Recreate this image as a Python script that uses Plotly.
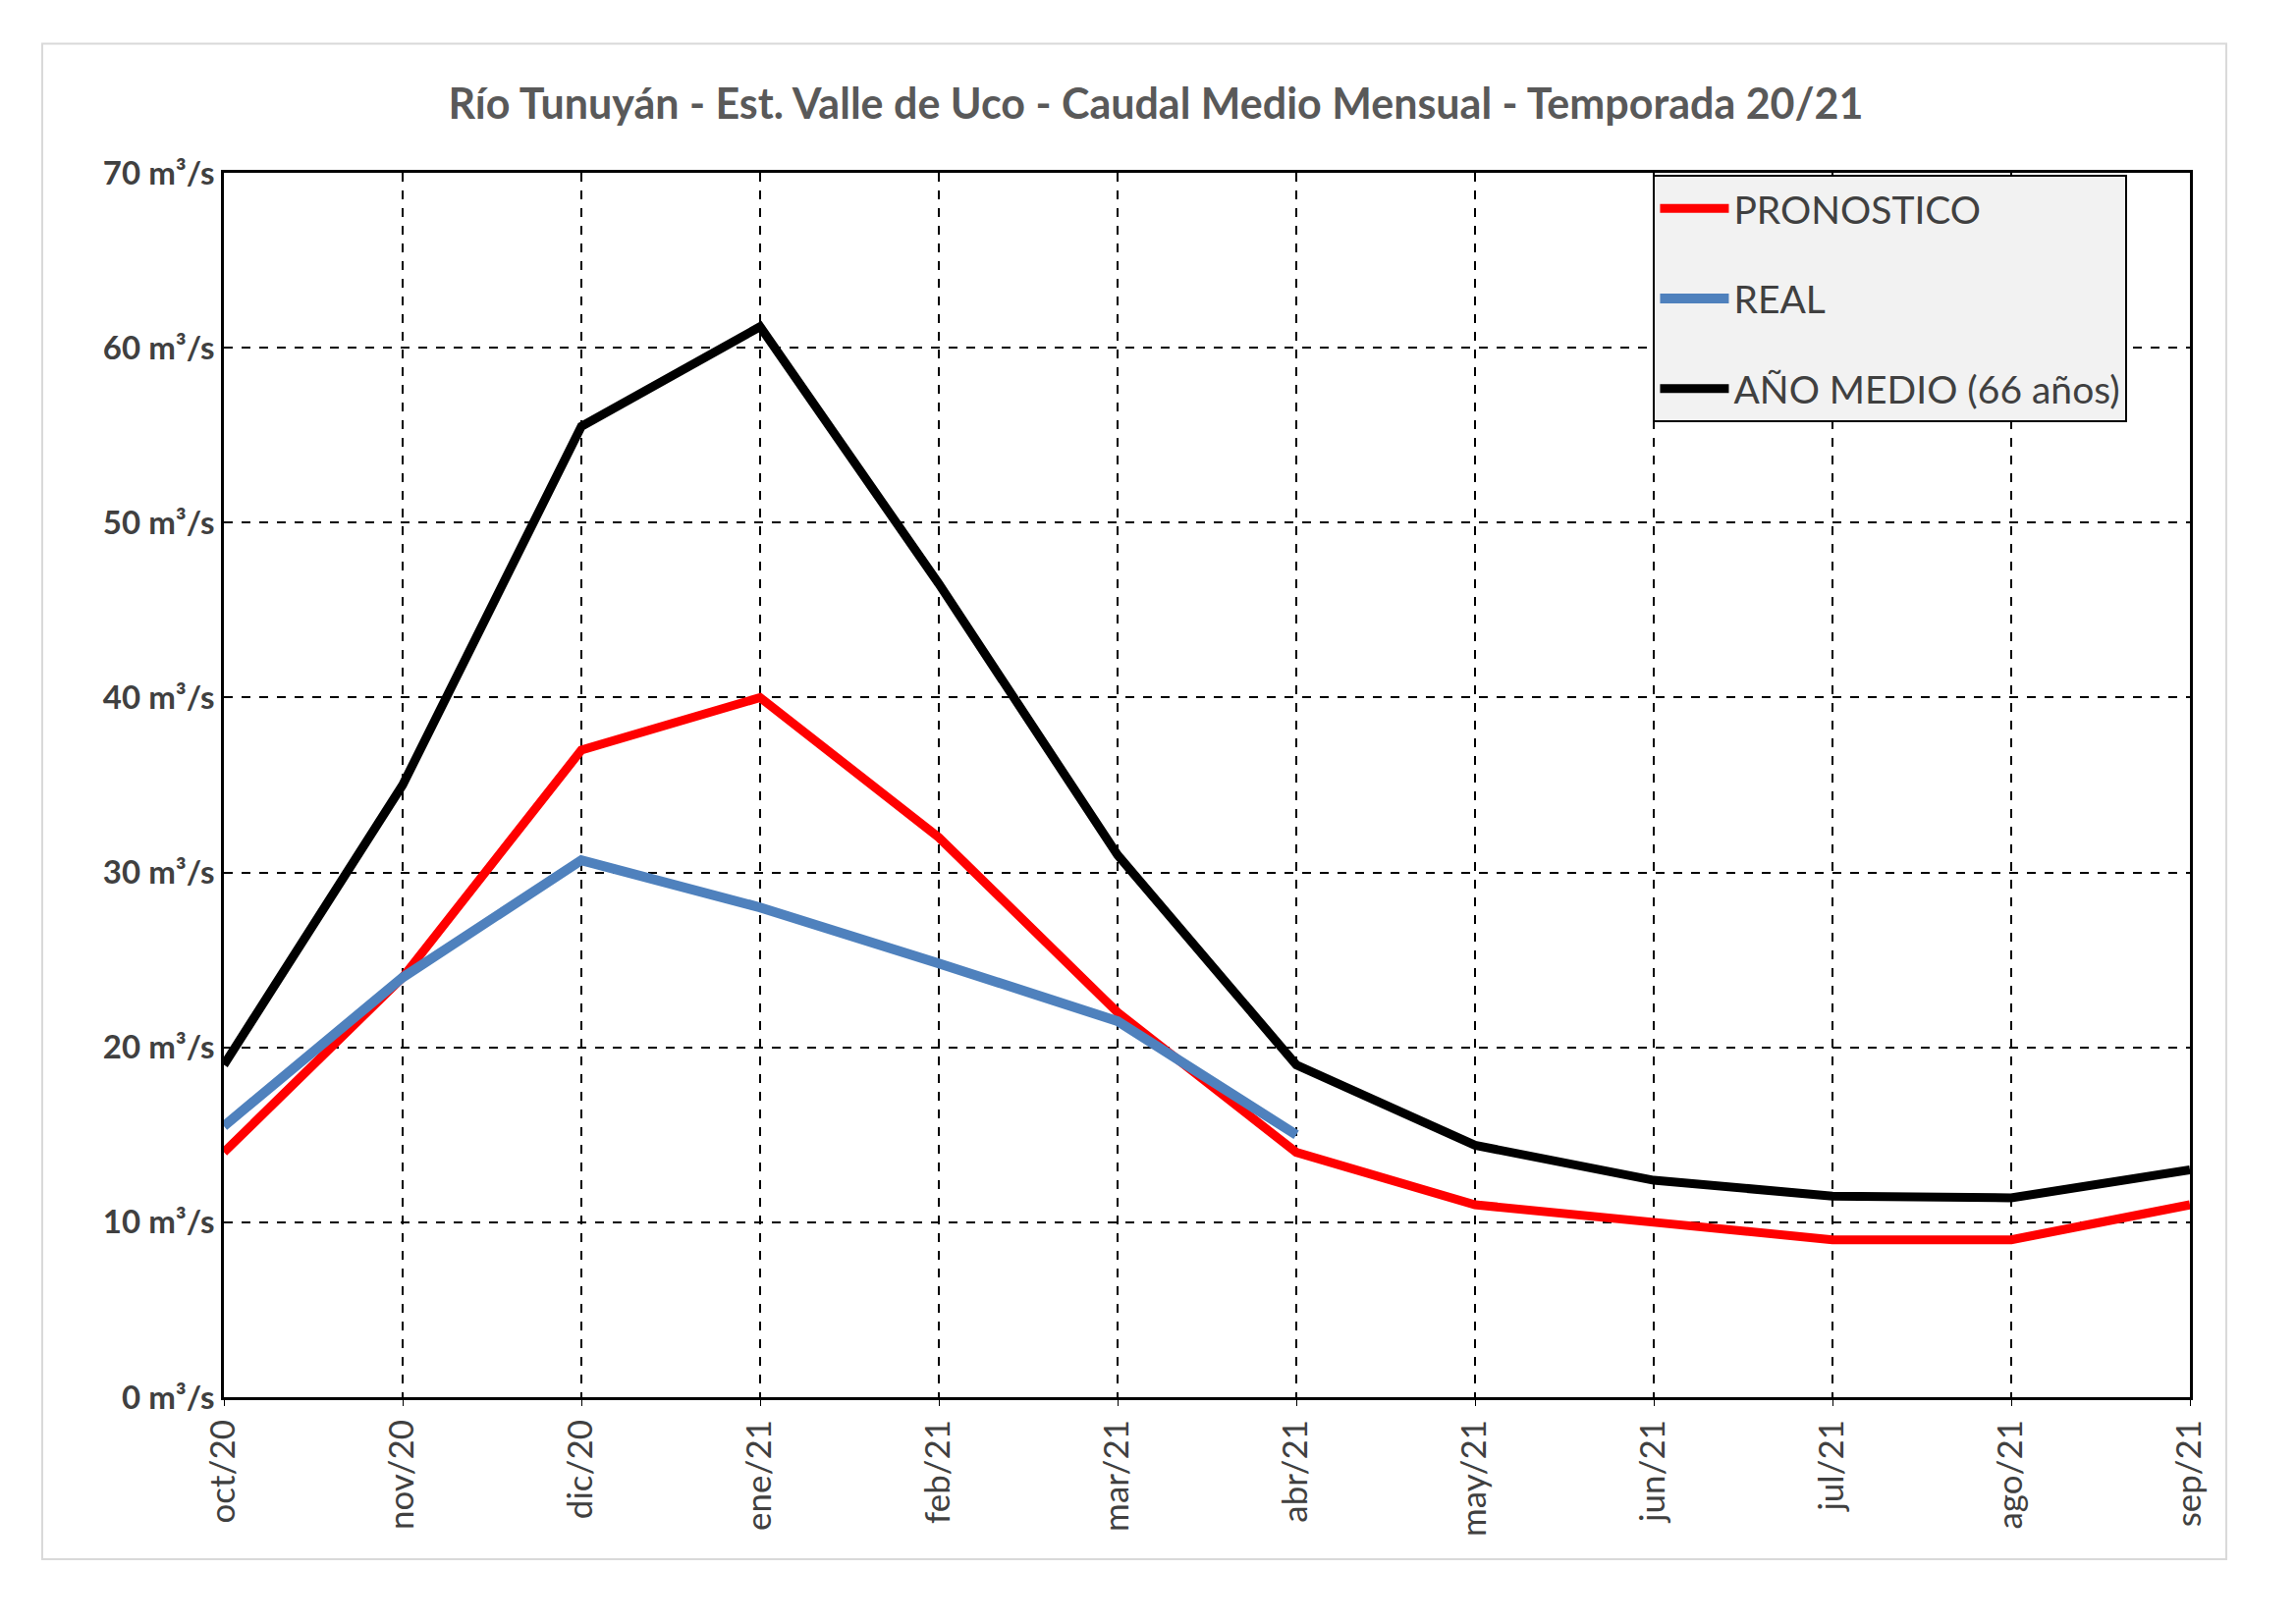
import plotly.graph_objects as go

meses = ["oct/20", "nov/20", "dic/20", "ene/21", "feb/21", "mar/21",
         "abr/21", "may/21", "jun/21", "jul/21", "ago/21", "sep/21"]
pronostico = [14, 24, 37, 40, 32, 22, 14, 11, 10, 9, 9, 11]
real = [15.5, 24, 30.7, 28, 24.8, 21.5, 15]
medio = [19, 35, 55.5, 61.2, 46.5, 31, 19, 14.4, 12.4, 11.5, 11.4, 13]
yticks = [0, 10, 20, 30, 40, 50, 60, 70]

fig = go.Figure()
fig.add_trace(go.Scatter(x=meses, y=pronostico, mode="lines", name="PRONOSTICO",
                         legendgroup="a", line=dict(color="#ff0000", width=9)))
fig.add_trace(go.Scatter(x=meses[:len(real)], y=real, mode="lines", name="REAL",
                         legendgroup="b", line=dict(color="#4f81bd", width=10)))
fig.add_trace(go.Scatter(x=meses, y=medio, mode="lines", name="AÑO MEDIO (66 años)",
                         legendgroup="c", line=dict(color="black", width=9)))

font = "Lato, Open Sans, sans-serif"
fig.update_layout(
    width=2338, height=1654,
    margin=dict(l=220, r=116, t=168, b=239),
    paper_bgcolor="white", plot_bgcolor="white",
    font=dict(family=font, color="#404040"),
    title=dict(text="<b>Río Tunuyán - Est. Valle de Uco - Caudal Medio Mensual - Temporada 20/21</b>",
               x=0.5, xanchor="center", y=1 - 98 / 1654, yanchor="middle",
               font=dict(size=43, color="#595959", weight=500)),
    legend=dict(x=0.727, y=0.998, xanchor="left", yanchor="top",
                bgcolor="#f2f2f2", bordercolor="black", borderwidth=2,
                font=dict(size=39, color="#404040"), itemwidth=70,
                tracegroupgap=38),
    showlegend=True,
)
fig.update_xaxes(type="category", range=[0, 11], showgrid=True,
                 gridcolor="black", griddash="dash", gridwidth=2,
                 tickangle=-90, tickfont=dict(size=35, color="#404040"),
                 showline=True, linecolor="black", linewidth=3, mirror=True,
                 ticks="outside", ticklen=6, tickcolor="black")
fig.update_yaxes(range=[0, 70], tickvals=yticks,
                 ticktext=[f"<b>{v} m³/s</b>" for v in yticks],
                 showgrid=True, gridcolor="black", griddash="dash", gridwidth=2,
                 tickfont=dict(size=33, color="#404040"),
                 showline=True, linecolor="black", linewidth=3, mirror=True,
                 zeroline=False)
fig.add_shape(type="rect", xref="paper", yref="paper",
              x0=-0.0924, x1=1.0185, y0=-0.1323, y1=1.1055,
              line=dict(color="#d9d9d9", width=2))
fig.write_html("out.html")
